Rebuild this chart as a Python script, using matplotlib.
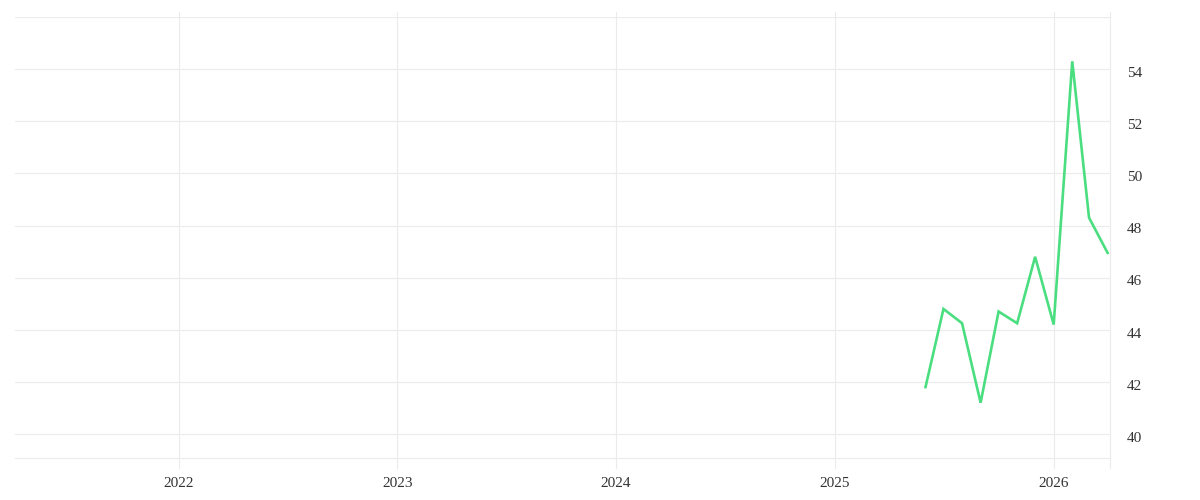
import matplotlib
matplotlib.use("Agg")
from matplotlib import pyplot as plt
from matplotlib.transforms import ScaledTranslation
from datetime import date

# monthly values, Jun 2025 .. Apr 2026
months = [date(2025, 6, 1), date(2025, 7, 1), date(2025, 8, 1), date(2025, 9, 1),
          date(2025, 10, 1), date(2025, 11, 1), date(2025, 12, 1), date(2026, 1, 1),
          date(2026, 2, 1), date(2026, 3, 1), date(2026, 4, 1)]
values = [41.8, 44.8, 44.25, 41.2, 44.7, 44.25, 46.8, 44.2, 54.3, 48.3, 46.95]

year_ticks = [date(2022, 1, 1), date(2023, 1, 1), date(2024, 1, 1),
              date(2025, 1, 1), date(2026, 1, 1)]
year_labels = ["2022", "2023", "2024", "2025", "2026"]
y_ticks = [40, 42, 44, 46, 48, 50, 52, 54]

grid_c = "#ebebeb"
text_c = "#333333"

plt.rcParams["font.family"] = ["Liberation Serif", "DejaVu Serif"]

fig = plt.figure(figsize=(12, 5), dpi=100)
ax = fig.add_axes([0.0125, 0.084, 0.9125, 0.882])

ax.plot(months, values, color="#4ade80", lw=1.9, solid_joinstyle="miter", zorder=3)

ax.set_xlim(date(2021, 4, 3), date(2026, 4, 5))
ax.set_ylim(39.08, 56)

# horizontal grid
for v in y_ticks + [56]:
    ax.axhline(v, color=grid_c, lw=0.8, zorder=1)
# vertical grid, sticking a bit out of the plot area
for d in year_ticks + [date(2026, 4, 5)]:
    ax.axvline(d, ymin=-0.023, ymax=1.011, color=grid_c, lw=0.8, clip_on=False, zorder=1)

ax.set_xticks(year_ticks)
ax.set_xticklabels(year_labels)
ax.set_yticks(y_ticks)
ax.yaxis.tick_right()
ax.tick_params(axis="x", length=0, pad=14, labelsize=11, labelcolor=text_c)
ax.tick_params(axis="y", length=0, pad=12, labelsize=11, labelcolor=text_c)

shift = ScaledTranslation(0, -2 / 72, fig.dpi_scale_trans)
for lab in ax.get_yticklabels():
    lab.set_transform(lab.get_transform() + shift)

for s in ["top", "left", "right"]:
    ax.spines[s].set_visible(False)
ax.spines["bottom"].set_color(grid_c)
ax.spines["bottom"].set_linewidth(0.8)

fig.savefig("out.png", dpi=100)
